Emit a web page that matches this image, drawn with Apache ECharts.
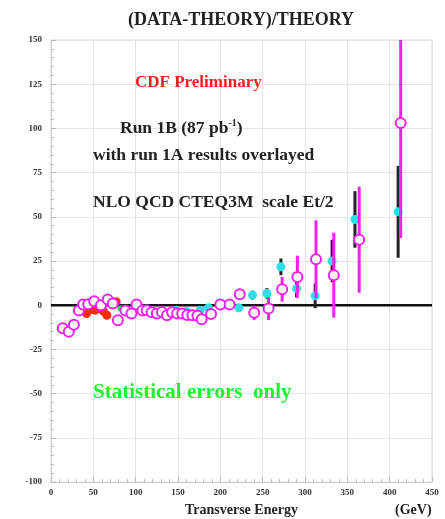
<!DOCTYPE html>
<html>
<head>
<meta charset="utf-8">
<script src="https://cdn.jsdelivr.net/npm/echarts@6/dist/echarts.min.js"></script>
<style>
  html, body { margin: 0; padding: 0; background: #fff; }
  #chart { width: 445px; height: 519px; }
</style>
</head>
<body>
<div id="chart"></div>
<script>
// Run 1B: magenta open circles with magenta stat errors
let run1bEt = [14, 21, 27, 33, 38, 44, 51, 59, 67, 73, 79, 88, 95, 101, 108, 113, 119, 125, 131, 137, 143, 149, 155, 161, 167, 173, 178, 189, 200, 211, 223, 240, 257, 273, 291, 313, 334, 364, 413];
let run1bVal = [-13, -15, -11, -3, 0.4, 0.6, 2.3, 0, 3.2, 1, -8.5, -3, -4.7, 0.4, -3, -2.8, -4, -4.7, -3.8, -5.7, -4, -4.7, -4.7, -5.5, -5.7, -6, -8, -5, 0.4, 0.4, 6.2, -4.3, -1.9, 9, 16, 26, 17, 37, 103];
let run1bErr = [1, 1, 1, 1, 1, 1, 1, 1, 1, 1, 1, 1, 1, 1, 1, 1, 1, 1, 1, 1, 1, 1, 1, 1, 1, 1, 1.5, 1.5, 2, 2, 3, 4, 6.5, 7, 12, 22, 24, 30, 65];

// Run 1A: cyan filled points with black stat errors
let run1aEt = [148, 160, 176, 186, 200, 222, 238, 255, 271.5, 290, 312, 332, 359, 410];
let run1aVal = [-2.8, -3.5, -2.8, -1.5, 1, -1.5, 5.7, 6.6, 21.7, 9.4, 5.3, 25, 48.5, 52.8];
let run1aErr = [0.8, 0.8, 1, 1, 1.5, 2, 2.5, 3, 4.7, 5, 7, 12, 16, 26];

// low Et points (other colours)
let redEt = [42, 47, 52, 57, 62, 66, 72, 77];
let redVal = [-4.7, -2.5, -2.8, -1.9, -3.5, -5.7, 1, 2];
let greenEt = [82, 90, 105];
let greenVal = [-1.9, -2.6, -2.8];
let blueEt = [121, 130, 137, 146];
let blueVal = [-4.5, -5.5, -7.5, -6];

let xTicks = [0, 50, 100, 150, 200, 250, 300, 350, 400, 450];
let yTicks = [-100, -75, -50, -25, 0, 25, 50, 75, 100, 125, 150];

const SERIF = "'Liberation Serif', 'DejaVu Serif', serif";
const MAGENTA = '#f022f0';
const CYAN = '#2ce0e6';

function pairs(xs, ys) {
    return xs.map((x, i) => [x, ys[i]]);
}

function errorData(xs, ys, es) {
    return xs.map((x, i) => [x, ys[i] - es[i], ys[i] + es[i]]);
}

function errorBars(color, width) {
    return function (params, api) {
        let rect = params.coordSys;
        let lo = api.coord([api.value(0), api.value(1)]);
        let hi = api.coord([api.value(0), api.value(2)]);
        let top = Math.max(hi[1], rect.y);
        let bottom = Math.min(lo[1], rect.y + rect.height);
        return {
            type: 'line',
            shape: { x1: lo[0], y1: bottom, x2: lo[0], y2: top },
            style: { stroke: color, lineWidth: width }
        };
    };
}

function label(text, x, y, size, color, extra) {
    return {
        type: 'text',
        x: x,
        y: y,
        z: 100,
        style: Object.assign({
            text: text,
            fill: color,
            font: 'bold ' + size + "px 'Liberation Serif'",
            verticalAlign: 'middle'
        }, extra || {})
    };
}

let chart = echarts.init(document.getElementById('chart'));

let option = {
    backgroundColor: '#fff',
    animation: false,
    textStyle: { fontFamily: SERIF },
    grid: {
        left: 51,
        right: 13,
        top: 40,
        bottom: 37,
        show: true,
        borderColor: '#d8d8d8',
        borderWidth: 1
    },
    xAxis: {
        type: 'value',
        min: 0,
        max: 450,
        interval: 50,
        axisLine: { show: true, onZero: false, lineStyle: { color: '#cfcfcf' } },
        axisTick: { show: true, inside: true, length: 5, lineStyle: { color: '#bbb' } },
        minorTick: { show: true, splitNumber: 5, length: 3, lineStyle: { color: '#bbb' } },
        splitLine: { show: true, lineStyle: { color: '#e4e4e4' } },
        axisLabel: {
            margin: 6,
            fontFamily: SERIF,
            fontWeight: 'bold',
            fontSize: 9,
            color: '#333',
            formatter: v => xTicks.includes(v) ? String(v) : ''
        }
    },
    yAxis: {
        type: 'value',
        min: -100,
        max: 150,
        interval: 25,
        axisLine: { show: true, onZero: false, lineStyle: { color: '#cfcfcf' } },
        axisTick: { show: true, inside: true, length: 5, lineStyle: { color: '#bbb' } },
        minorTick: { show: true, splitNumber: 5, length: 3, lineStyle: { color: '#bbb' } },
        splitLine: { show: true, lineStyle: { color: '#e4e4e4' } },
        axisLabel: {
            margin: 9,
            fontFamily: SERIF,
            fontWeight: 'bold',
            fontSize: 9,
            color: '#333',
            formatter: v => yTicks.includes(v) ? String(v) : ''
        }
    },
    graphic: [
        label('(DATA-THEORY)/THEORY', 128, 20, 18, '#222'),
        label('CDF Preliminary', 135, 83, 17, '#ee2222'),
        label('Run 1B (87 pb{sup|-1})', 120, 128, 17.5, '#222', {
            rich: { sup: { fontSize: 10, fontWeight: 'bold', fontFamily: SERIF, padding: [0, 0, 9, 0] } }
        }),
        label('with run 1A results overlayed', 93, 155, 17.5, '#222'),
        label('NLO QCD CTEQ3M  scale Et/2', 93, 202, 17.5, '#222'),
        label('Statistical errors  only', 93, 393, 21, '#22ee33'),
        label('Transverse Energy', 185, 510, 14, '#222'),
        label('(GeV)', 395, 510, 14, '#222')
    ],
    series: [
        {
            name: 'zero',
            type: 'line',
            data: [[0, 0], [450, 0]],
            symbol: 'none',
            lineStyle: { color: '#111', width: 2.5 },
            z: 1
        },
        {
            name: 'Run 1A errors',
            type: 'custom',
            renderItem: errorBars('#222', 3),
            data: errorData(run1aEt, run1aVal, run1aErr),
            z: 2
        },
        {
            name: 'Red',
            type: 'scatter',
            data: pairs(redEt, redVal),
            symbolSize: 9,
            itemStyle: { color: '#ff2a10', opacity: 1 },
            z: 3
        },
        {
            name: 'Green',
            type: 'scatter',
            data: pairs(greenEt, greenVal),
            symbolSize: 6,
            itemStyle: { color: '#22dd44', opacity: 1 },
            z: 3
        },
        {
            name: 'Blue',
            type: 'scatter',
            data: pairs(blueEt, blueVal),
            symbolSize: 5,
            itemStyle: { color: '#3344dd', opacity: 1 },
            z: 3
        },
        {
            name: 'Run 1A',
            type: 'scatter',
            data: pairs(run1aEt, run1aVal),
            symbolSize: 9,
            itemStyle: { color: CYAN, opacity: 1 },
            z: 3
        },
        {
            name: 'Run 1B errors',
            type: 'custom',
            renderItem: errorBars(MAGENTA, 3),
            data: errorData(run1bEt, run1bVal, run1bErr),
            z: 4
        },
        {
            name: 'Run 1B',
            type: 'scatter',
            data: pairs(run1bEt, run1bVal),
            symbolSize: 10,
            itemStyle: { color: '#fff', borderColor: MAGENTA, borderWidth: 2, opacity: 1 },
            z: 5
        }
    ]
};

chart.setOption(option);
</script>
</body>
</html>
